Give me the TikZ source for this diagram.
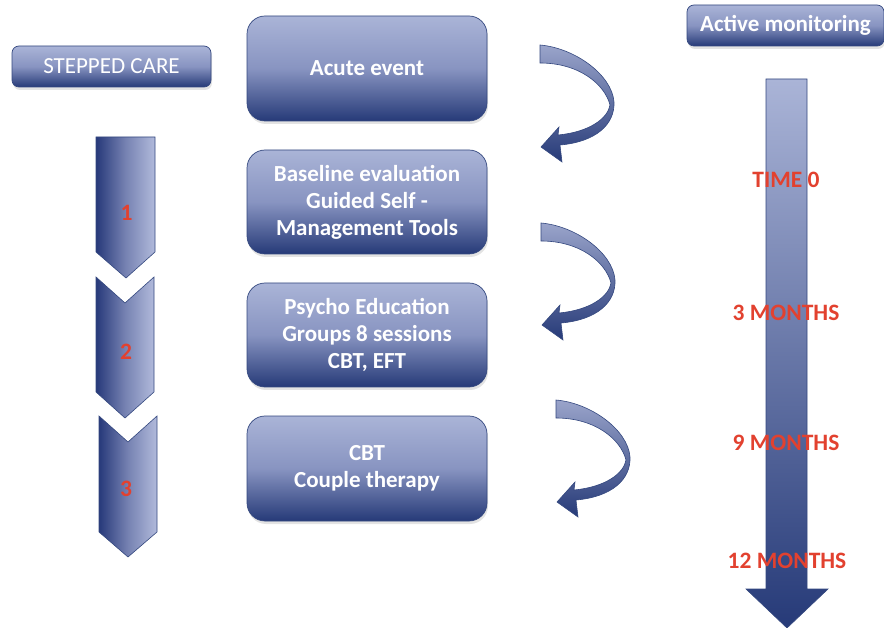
\documentclass[tikz,border=0pt]{standalone}
\usepackage{fontspec}
\setmainfont{Carlito}
\usetikzlibrary{shadows}
\definecolor{boxtop}{HTML}{AAB4D7}
\definecolor{boxmid}{HTML}{8894C1}
\definecolor{boxbot}{HTML}{263A78}
\definecolor{edge}{HTML}{34487F}
\definecolor{redlab}{HTML}{E2412F}
\definecolor{chevdark}{HTML}{27397A}
\definecolor{chevmid}{HTML}{7682B2}
\definecolor{chevlight}{HTML}{B1BADB}
\tikzset{
  gbox/.style={rounded corners=18pt, draw=edge, line width=0.7pt,
    top color=boxtop, bottom color=boxbot, middle color=boxmid,
    drop shadow={shadow xshift=1pt, shadow yshift=-3pt, opacity=0.22},
    text=white, font=\fontsize{23}{27}\selectfont\bfseries, align=center,
    minimum width=240pt, inner sep=0pt},
  smallbox/.style={rounded corners=7pt, draw=edge, line width=0.7pt,
    top color=boxtop, bottom color=boxbot, middle color=boxmid,
    drop shadow={shadow xshift=1pt, shadow yshift=-3pt, opacity=0.22},
    text=white, align=center, minimum height=41pt, inner sep=0pt},
  redtext/.style={text=redlab, font=\fontsize{23.5}{27}\selectfont\bfseries, inner sep=0pt},
  chev/.style={draw=edge, line width=0.6pt, left color=chevdark, right color=chevlight, middle color=chevmid},
  curvedarr/.pic={
    \shade[draw=edge, line width=0.6pt, top color=boxmid!85, bottom color=boxbot]
      (0,0) .. controls (35,3) and (72,30) .. (74,57)
      .. controls (75,80) and (55,97) .. (20,100)
      -- (22,117) -- (1,102) -- (19,82) -- (18,90)
      .. controls (50,87) and (68,73) .. (70,60)
      .. controls (65,40) and (40,18) .. (0,18) -- cycle;
  }
}
\begin{document}
\begin{tikzpicture}[x=1pt, y=-1pt]
\useasboundingbox (0,0) rectangle (884,628);

% left title
\node[smallbox, minimum width=199pt, font=\fontsize{23}{27}\selectfont] (stepped) at (111.5,66.5) {STEPPED CARE};

% chevrons
\shade[chev] (96,137) -- (155,137) -- (155,252) -- (126,278) -- (96,252) -- cycle;
\shade[chev] (96,277) -- (125,303) -- (154,277) -- (154,392) -- (125,418) -- (96,392) -- cycle;
\shade[chev] (99,416) -- (128,442) -- (157,416) -- (157,532) -- (128,557) -- (99,532) -- cycle;
\node[redtext] (n1) at (126.5,213) {1};
\node[redtext] (n2) at (126,351.5) {2};
\node[redtext] (n3) at (126,488.5) {3};

% central boxes
\node[gbox, minimum height=105pt] (acute) at (367,68.5) {Acute event};
\node[gbox, minimum height=104pt] (base) at (367,202) {Baseline evaluation\\Guided Self -\\Management Tools};
\node[gbox, minimum height=104pt] (psy) at (367,335) {Psycho Education\\Groups 8 sessions\\CBT, EFT};
\node[gbox, minimum height=105pt] (cbt) at (367,468.5) {CBT\\Couple therapy};

% curved arrows
\pic at (540,45) {curvedarr};
\pic at (541,223) {curvedarr};
\pic at (556,400) {curvedarr};

% active monitoring
\node[smallbox, minimum width=197pt, font=\fontsize{23}{27}\selectfont\bfseries] (active) at (785.5,25.5) {Active monitoring};

% timeline arrow
\shade[draw=edge, line width=0.6pt, top color=boxtop, bottom color=boxbot]
  (766,79) -- (807,79) -- (807,589) -- (828,589) -- (787,628) -- (746,589) -- (766,589) -- cycle;

\node[redtext] (t0) at (786,180) {TIME 0};
\node[redtext] (t3) at (786,313) {3 MONTHS};
\node[redtext] (t9) at (786,443) {9 MONTHS};
\node[redtext] (t12) at (787,561) {12 MONTHS};
\end{tikzpicture}
\end{document}
